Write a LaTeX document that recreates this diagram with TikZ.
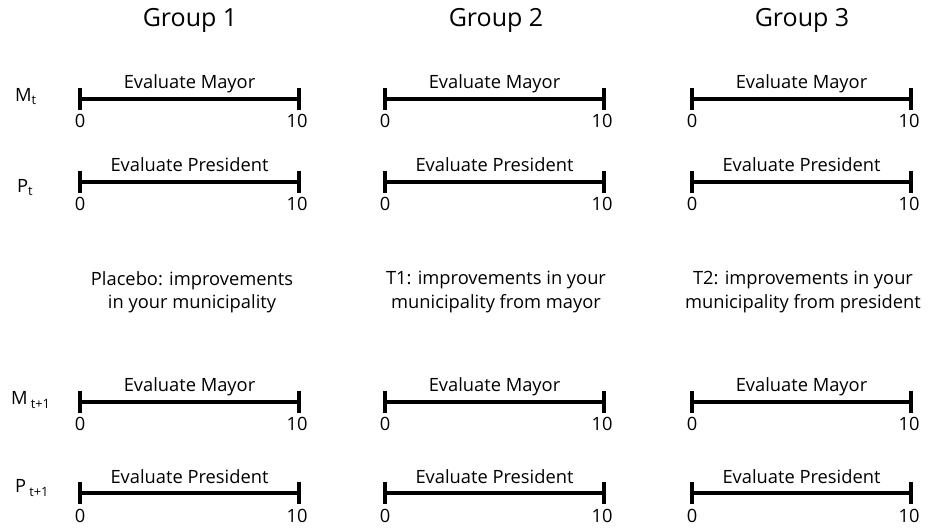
\documentclass[tikz,border=0pt]{standalone}
\usepackage{fontspec}
\setmainfont{Open Sans}
\usetikzlibrary{calc}

\begin{document}
\begin{tikzpicture}[x=1pt,y=-1pt,
  bar/.style={line width=4pt},
  tick/.style={line width=3.5pt},
  lab/.style={font=\fontsize{18.3}{23.5}\selectfont, inner sep=0pt},
  title/.style={font=\fontsize{25}{28}\selectfont, inner sep=0pt}]
\useasboundingbox (0,0) rectangle (930,529);

% group headings
\foreach \g/\x in {1/190,2/496,3/802}
  \node[title, anchor=base] (group\g) at (\x,27) {Group \g};

% row labels
\node[lab, anchor=base west] (mt) at (15,102) {M\textsubscript{t}};
\node[lab, anchor=base west] (pt) at (17,193) {P\textsubscript{t}};
\node[lab, anchor=base west] (mtt) at (11,405) {M\,\textsubscript{t+1}};
\node[lab, anchor=base west] (ptt) at (15,493) {P\,\textsubscript{t+1}};

% rating scales
\foreach \g/\xa in {1/80,2/385,3/692}
\foreach \r/\y/\txt in {m/99/Evaluate Mayor,p/182/Evaluate President,mm/402/Evaluate Mayor,pp/493/Evaluate President}
{
  \coordinate (s\g\r lo) at (\xa,\y);
  \coordinate (s\g\r hi) at (\xa+219,\y);
  \draw[bar] (s\g\r lo) -- (s\g\r hi);
  \draw[tick] ([yshift=11pt]s\g\r lo) -- ([yshift=-11pt]s\g\r lo);
  \draw[tick] ([yshift=11pt]s\g\r hi) -- ([yshift=-11pt]s\g\r hi);
  \node[lab, anchor=base] (q\g\r) at ([yshift=10pt]$(s\g\r lo)!.5!(s\g\r hi)$) {\txt};
  \node[lab, anchor=base] (n\g\r lo) at ([yshift=-29pt]s\g\r lo) {0};
  \node[lab, anchor=base] (n\g\r hi) at ([yshift=-29pt,xshift=-2pt]s\g\r hi) {10};
}

% treatments
\node[lab, align=center] (placebo) at (192,292) {Placebo: improvements\\in your municipality};
\node[lab, align=center] (treat1) at (496,292) {T1: improvements in your\\municipality from mayor};
\node[lab, align=center] (treat2) at (803,292) {T2: improvements in your\\municipality from president};
\end{tikzpicture}
\end{document}
